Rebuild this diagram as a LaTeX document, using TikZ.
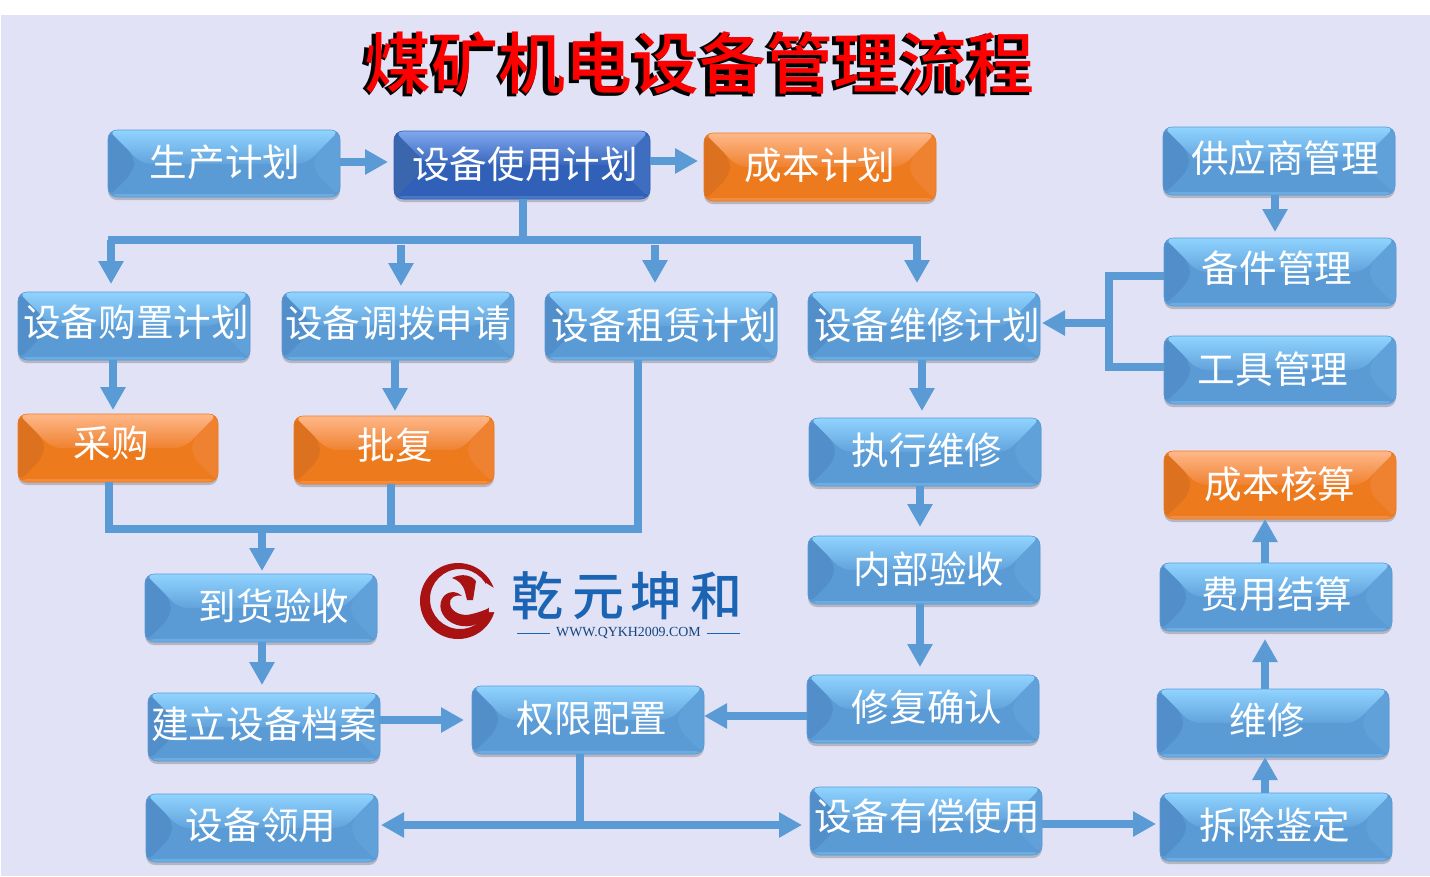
\documentclass[tikz,border=0pt]{standalone}
\usepackage{fontspec}
\setmainfont{Noto Sans CJK SC}
\newfontfamily\titlefont{Noto Sans CJK SC Medium}
\newfontfamily\latinserif{Liberation Serif}
\usetikzlibrary{arrows.meta,shadows}
\definecolor{bgc}{HTML}{E1E2F6}
\definecolor{linec}{HTML}{5B9BD5}
\definecolor{bT}{HTML}{90D4FF}\definecolor{bM}{HTML}{62A3DC}\definecolor{bB}{HTML}{5B9BD5}\definecolor{bL}{HTML}{528ECA}\definecolor{bR}{HTML}{60A1DA}
\definecolor{dT}{HTML}{80A8EE}\definecolor{dM}{HTML}{3866BC}\definecolor{dB}{HTML}{3060B8}\definecolor{dL}{HTML}{3A66AE}\definecolor{dR}{HTML}{3F6DC0}
\definecolor{oT}{HTML}{FFB88A}\definecolor{oM}{HTML}{EF8230}\definecolor{oB}{HTML}{ED7A1C}\definecolor{oL}{HTML}{DC7220}\definecolor{oR}{HTML}{EF8230}
\definecolor{logor}{HTML}{A81212}
\definecolor{logob}{HTML}{1B64B4}
\tikzset{
  x=1pt,y=-1pt,
  bevelbox/.style n args={6}{rectangle,rounded corners=9pt,inner sep=0pt,outer sep=0pt,
    text=white,font=\fontsize{37.6}{37.6}\selectfont,
    draw=#3,line width=.6pt,fill=#3,
    drop shadow={shadow xshift=0pt,shadow yshift=-3pt,opacity=.35,fill=black!60},
    path picture={
      \coordinate (pNW) at (path picture bounding box.north west);
      \coordinate (pNE) at (path picture bounding box.north east);
      \coordinate (pSW) at (path picture bounding box.south west);
      \coordinate (pSE) at (path picture bounding box.south east);
      \shade[top color=#1,bottom color=#2] (pNW)--(pNE)--([xshift=-34pt,yshift=-34pt]pNE)--([xshift=34pt,yshift=-34pt]pNW)--cycle;
      \fill[#4] (pNW)--([xshift=26pt,yshift=-26pt]pNW)--([xshift=26pt,yshift=26pt]pSW)--(pSW)--cycle;
      \fill[#5] (pNE)--([xshift=-26pt,yshift=-26pt]pNE)--([xshift=-26pt,yshift=26pt]pSE)--(pSE)--cycle;
      \fill[#6] ([yshift=3pt]pSW) rectangle (pSE);
    }},
  bluebox/.style={bevelbox={bT}{bM}{bB}{bL}{bR}{bT!30!bB}},
  darkbox/.style={bevelbox={dT}{dM}{dB}{dL}{dR}{dT!30!dB}},
  orangebox/.style={bevelbox={oT}{oM}{oB}{oL}{oR}{oT!30!oB}},
  conn/.style={draw=linec,line width=7.5pt},
  tip/.style={conn,-{Triangle[width=24pt,length=23pt]}},
  gaptip/.style={tip,shorten >=#1pt},
}
% name, style, x1,y1,x2,y2, text centre x,y, text
\newcommand{\bx}[9]{%
  \pgfmathsetmacro{\bw}{#5-#3}\pgfmathsetmacro{\bh}{#6-#4}%
  \pgfmathsetmacro{\bcx}{(#3+#5)/2}\pgfmathsetmacro{\bcy}{(#4+#6)/2}%
  \pgfmathsetmacro{\bdx}{2*(#7-\bcx)}\pgfmathsetmacro{\bdy}{\bcy-#8-14}%
  \node[#2,minimum width=\bw pt,minimum height=\bh pt] (#1) at (\bcx,\bcy)
    {\raisebox{\bdy pt}[0pt][0pt]{\makebox[0pt][c]{\hspace*{\bdx pt}#9}}};%
}
\begin{document}
\begin{tikzpicture}
\useasboundingbox (0,0) rectangle (1430,876);
\fill[bgc] (1,15) rectangle (1430,876);
% title
\node[inner sep=0pt,text=black,font=\bfseries\fontsize{67}{67}\selectfont] (titleshadow) at (696,65) {煤矿机电设备管理流程};
\node[inner sep=0pt,text=red,font=\titlefont\fontsize{67}{67}\selectfont] (title) at (699,62.5) {煤矿机电设备管理流程};
% boxes
\bx{scjh}{bluebox}{108}{130}{340}{197}{225}{162}{生产计划}
\bx{sbsy}{darkbox}{394}{131}{650}{199}{525}{164}{设备使用计划}
\bx{cbjh}{orangebox}{704}{133}{936}{201}{820}{165}{成本计划}
\bx{gys}{bluebox}{1163}{127}{1395}{195}{1285}{158}{供应商管理}
\bx{bjgl}{bluebox}{1164}{238}{1396}{306}{1277}{268}{备件管理}
\bx{gjgl}{bluebox}{1164}{336}{1396}{404}{1273}{369}{工具管理}
\bx{gzjh}{bluebox}{18}{292}{250}{360}{136}{322}{设备购置计划}
\bx{dbsq}{bluebox}{282}{292}{514}{360}{398}{323}{设备调拨申请}
\bx{zljh}{bluebox}{545}{292}{777}{360}{664}{325}{设备租赁计划}
\bx{wxjh}{bluebox}{808}{292}{1040}{360}{927}{325}{设备维修计划}
\bx{cg}{orangebox}{18}{414}{218}{482}{111}{443}{采购}
\bx{pf}{orangebox}{294}{416}{494}{484}{395}{445}{批复}
\bx{zxwx}{bluebox}{809}{418}{1041}{486}{927}{450}{执行维修}
\bx{cbhs}{orangebox}{1164}{451}{1396}{519}{1280}{484}{成本核算}
\bx{nbys}{bluebox}{808}{536}{1040}{604}{929}{569}{内部验收}
\bx{fyjs}{bluebox}{1160}{563}{1392}{631}{1277}{594}{费用结算}
\bx{dhys}{bluebox}{145}{574}{377}{642}{274}{606}{到货验收}
\bx{jlda}{bluebox}{148}{693}{380}{761}{264}{724}{建立设备档案}
\bx{qxpz}{bluebox}{472}{686}{704}{754}{592}{718}{权限配置}
\bx{xfqr}{bluebox}{807}{675}{1039}{743}{927}{707}{修复确认}
\bx{wx}{bluebox}{1157}{689}{1389}{757}{1267}{720}{维修}
\bx{sbly}{bluebox}{146}{794}{378}{862}{261}{825}{设备领用}
\bx{ycsy}{bluebox}{810}{787}{1042}{855}{927}{816}{设备有偿使用}
\bx{ccjd}{bluebox}{1160}{793}{1392}{861}{1275}{825}{拆除鉴定}
% connectors
\draw[gaptip=6] (scjh.east |- 0,162) -- (sbsy.west |- 0,162);
\draw[gaptip=6] (sbsy.east |- 0,161) -- (cbjh.west |- 0,161);
% bus from use plan
\coordinate (busL) at (111,240);
\coordinate (busR) at (917,240);
\coordinate (busC) at (523,240);
\draw[conn] (sbsy.south -| busC) -- (busC);
\draw[conn] ([xshift=-3.5pt]busL) -- ([xshift=3.5pt]busR);
\draw[gaptip=8] (busL) -- (busL |- gzjh.north);
\draw[gaptip=6] (401,245) -- (401,245 |- dbsq.north);
\draw[gaptip=9] (655,245) -- (655,245 |- zljh.north);
\draw[gaptip=9] (busR) -- (busR |- wxjh.north);
\draw[gaptip=4] (113,0 |- gzjh.south) -- (113,0 |- cg.north);
\draw[gaptip=5] (395,0 |- dbsq.south) -- (395,0 |- pf.north);
\coordinate (collect) at (262,529);
\draw[conn] (109,0 |- cg.south) -- (109,529) -- (638,529) -- (638,0 |- zljh.south);
\draw[conn] (391,0 |- pf.south) -- (391,529);
\draw[gaptip=3] (collect) -- (262,0 |- dhys.north);
\draw[gaptip=8] (262,0 |- dhys.south) -- (262,0 |- jlda.north);
\draw[gaptip=8] (jlda.east |- 0,720) -- (qxpz.west |- 0,720);
\draw[tip] (xfqr.west |- 0,716) -- (qxpz.east |- 0,716);
\coordinate (split) at (580,825);
\draw[conn] (580,0 |- qxpz.south) -- (split);
\draw[tip,shorten >=3pt] (split) -- (sbly.east |- split);
\draw[tip,shorten >=8pt] (split) -- (ycsy.west |- split);
\draw[gaptip=4] (ycsy.east |- 0,824) -- (ccjd.west |- 0,824);
\draw[tip] (1265,0 |- ccjd.north) -- (1265,0 |- wx.south);
\draw[gaptip=8] (1265,0 |- wx.north) -- (1265,0 |- fyjs.south);
\draw[tip] (1265,0 |- fyjs.north) -- (1265,0 |- cbhs.south);
\draw[gaptip=6] (1275,0 |- gys.south) -- (1275,0 |- bjgl.north);
\draw[gaptip=7] (922,0 |- wxjh.south) -- (922,0 |- zxwx.north);
\draw[gaptip=9] (920,0 |- zxwx.south) -- (920,0 |- nbys.north);
\draw[gaptip=8] (920,0 |- nbys.south) -- (920,0 |- xfqr.north);
\coordinate (merge) at (1109,323);
\draw[conn] (bjgl.west |- 0,276) -- (1109,276) -- (1109,367) -- (gjgl.west |- 0,367);
\draw[tip,shorten >=2pt] (merge) -- (wxjh.east |- merge);
% logo
\fill[logor,even odd rule] (458,601) circle[radius=38] (460,599) circle[radius=30];
\fill[bgc] (486,583) -- (500,592) -- (500,612) -- (489,612) -- cycle;
\fill[logor] (489,608) .. controls (486,624) and (470,629) .. (457,625)
  .. controls (444,621) and (437,609) .. (442,599)
  .. controls (446,591) and (456,590) .. (462,596)
  .. controls (455,594) and (449,598) .. (450,604)
  .. controls (451,612) and (462,617) .. (472,614)
  .. controls (480,612) and (485,610) .. (489,608) -- cycle;
\fill[logor] (452,578) .. controls (462,573) and (471,575) .. (476,581)
  -- (473,600) -- (467,600) -- (465,592) .. controls (463,584) and (458,580) .. (452,578) -- cycle;
\node[inner sep=0pt,text=logob,font=\titlefont\fontsize{52}{52}\selectfont] (logotext) at (627,596) {乾\hspace{9pt}元\hspace{6pt}坤\hspace{8pt}和};
\node[inner sep=0pt,text=logob!70!black,font=\latinserif\fontsize{13.9}{13.9}\selectfont] (logourl) at (628.5,633) {WWW.QYKH2009.COM};
\draw[logob,line width=.9pt] ([xshift=-6pt]logourl.west) -- ++(-33pt,0pt);
\draw[logob,line width=.9pt] ([xshift=6pt]logourl.east) -- ++(33pt,0pt);
\end{tikzpicture}
\end{document}
